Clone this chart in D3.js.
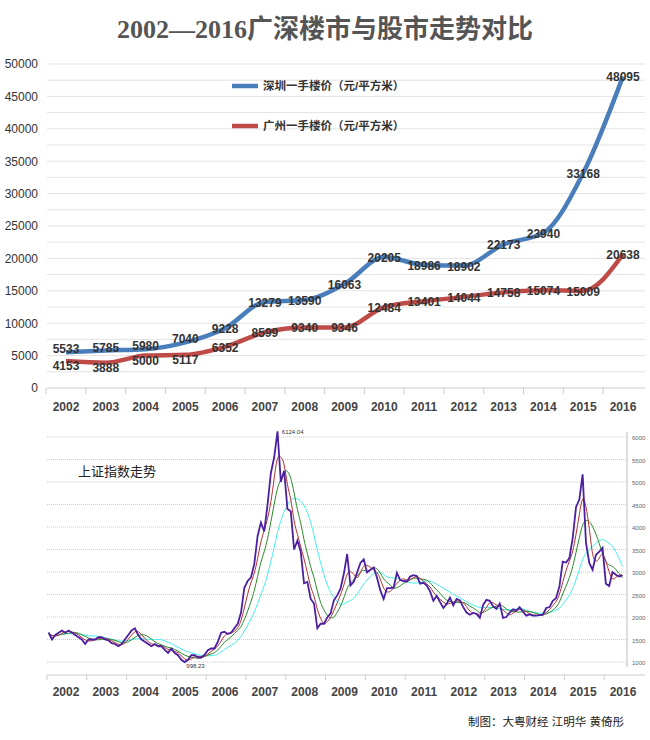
<!DOCTYPE html><html><head><meta charset="utf-8">
<script src="https://d3js.org/d3.v7.min.js"></script>
<style>body{margin:0;background:#fff}svg{font-family:"Liberation Sans","Noto Sans CJK SC",sans-serif}</style></head><body>
<svg id="c" width="650" height="740"></svg>
<script>
const years=["2002","2003","2004","2005","2006","2007","2008","2009","2010","2011","2012","2013","2014","2015","2016"];
const shenzhen=[5533,5785,5980,7040,9228,13279,13590,16063,20205,18986,18902,22173,23940,33168,48095];
const guangzhou=[4153,3888,5000,5117,6352,8599,9340,9346,12484,13401,14044,14758,15074,15009,20638];
const yTicks=[0,5000,10000,15000,20000,25000,30000,35000,40000,45000,50000];
const stockTicks=[1000,1500,2000,2500,3000,3500,4000,4500,5000,5500,6000];
// Shanghai Composite, monthly estimates from Jan 2002
const sh=[1650,1500,1600,1650,1700,1650,1700,1650,1600,1550,1500,1400,
1500,1500,1500,1550,1550,1500,1480,1420,1400,1350,1400,1500,
1600,1700,1750,1600,1500,1450,1400,1350,1400,1350,1350,1270,
1200,1300,1200,1150,1050,998,1050,1150,1150,1100,1100,1160,
1260,1300,1300,1450,1650,1670,1620,1650,1750,1850,2100,2650,
2800,2880,3180,3800,4100,3900,4500,5200,5550,6124,5000,5250,
4400,4350,3500,3700,3450,2750,2780,2400,2300,1750,1850,1850,
1990,2080,2370,2480,2630,2960,3400,2700,2780,2990,3200,3280,
2990,3050,3100,2870,2590,2400,2640,2640,2650,2980,2820,2800,
2790,2900,2930,2910,2740,2760,2700,2570,2360,2470,2330,2200,
2290,2430,2260,2400,2370,2220,2100,2050,2090,2070,1980,2270,
2380,2360,2240,2180,2300,1980,2000,2100,2170,2140,2220,2120,
2030,2060,2030,2030,2040,2050,2200,2220,2360,2420,2680,3230,
3210,3310,3750,4440,4610,5170,3660,3200,3050,3380,3450,3540,
2740,2690,3000,2940,2900,2930];
const svg=d3.select("#c");
svg.append("text").attr("x",325).attr("y",38).attr("text-anchor","middle").attr("font-size",26).attr("font-weight","bold").attr("fill","#555").attr("font-family","'Liberation Serif','Noto Sans CJK SC',serif").text("2002—2016广深楼市与股市走势对比");
const x=d3.scalePoint().domain(years).range([66,623]);
const y=d3.scaleLinear().domain([0,50000]).range([388,64]);
const g=svg.append("g");
d3.range(0,50001,2500).forEach(v=>{if(v>0)g.append("line").attr("x1",47).attr("x2",645).attr("y1",y(v)).attr("y2",y(v)).attr("stroke","#e3e3e3").attr("stroke-width",1);});
g.append("g").attr("transform","translate(47,0)").call(d3.axisLeft(y).tickValues(yTicks).tickSize(0).tickFormat(d3.format("d"))).call(a=>{a.select(".domain").remove();a.selectAll("text").attr("font-size",12).attr("fill","#333").attr("dx",-6);});
g.append("line").attr("x1",47).attr("x2",645).attr("y1",388).attr("y2",388).attr("stroke","#ccc");
years.forEach((yr,i)=>{const b=x(yr)-19.9;g.append("line").attr("x1",b).attr("x2",b).attr("y1",388).attr("y2",394).attr("stroke","#ccc");
g.append("text").attr("x",x(yr)).attr("y",411).attr("text-anchor","middle").attr("font-size",12).attr("font-weight","bold").attr("fill","#444").text(yr);});
const line=d3.line().x((d,i)=>x(years[i])).y(d=>y(d)).curve(d3.curveMonotoneX);
[[shenzhen,"#4a7ebb"],[guangzhou,"#be4b48"]].forEach(([s,c])=>{
g.append("path").attr("d",line(s)).attr("fill","none").attr("stroke",c).attr("stroke-width",4.5);});
shenzhen.forEach((v,i)=>g.append("text").attr("x",x(years[i])).attr("y",y(v)+(i<4?1:5)).attr("text-anchor","middle").attr("font-size",12).attr("font-weight","bold").attr("fill","#333").text(v));
guangzhou.forEach((v,i)=>g.append("text").attr("x",x(years[i])).attr("y",y(v)+(i<4?9:5)).attr("text-anchor","middle").attr("font-size",12).attr("font-weight","bold").attr("fill","#333").text(v));
[["深圳一手楼价（元/平方米）","#4a7ebb",86],["广州一手楼价（元/平方米）","#be4b48",126]].forEach(([t,c,yy])=>{
g.append("line").attr("x1",232).attr("x2",258).attr("y1",yy).attr("y2",yy).attr("stroke",c).attr("stroke-width",4.5);
g.append("text").attr("x",263).attr("y",yy+4).attr("font-size",11.5).attr("font-weight","bold").attr("fill","#333").text(t);});
const tx=d3.scaleLinear().domain([2002,2017]).range([47,644]);
const ys=d3.scaleLinear().domain([1000,6000]).range([662,437]);
const b=svg.append("g");
stockTicks.forEach(v=>{b.append("line").attr("x1",47).attr("x2",627).attr("y1",ys(v)).attr("y2",ys(v)).attr("stroke","#ccc").attr("stroke-dasharray","1,1");
b.append("text").attr("x",632).attr("y",ys(v)+3).attr("font-size",6).attr("fill","#666").text(v);});
b.append("line").attr("x1",627).attr("x2",627).attr("y1",432).attr("y2",667).attr("stroke","#bbb");
const pts=sh.map((v,i)=>[2002+(i+0.5)/12,v]);
const ma=n=>pts.map((p,i)=>{const s=sh.slice(Math.max(0,i-n+1),i+1);return [p[0],d3.mean(s)];});
const sl=d3.line().x(d=>tx(d[0])).y(d=>ys(d[1]));
const slc=d3.line().x(d=>tx(d[0])).y(d=>ys(d[1])).curve(d3.curveBasis);
[[ma(12),"#44eeee"],[ma(6),"#2a8a2a"],[ma(3),"#b03030"]].forEach(([d,c])=>b.append("path").attr("d",slc(d)).attr("fill","none").attr("stroke",c).attr("stroke-width",1));
b.append("path").attr("d",sl(pts)).attr("fill","none").attr("stroke","#4b1fa0").attr("stroke-width",1.8);
b.append("text").attr("x",tx(2007.8)+4).attr("y",ys(6124)+3).attr("font-size",6).attr("fill","#333").text("6124.04");
b.append("text").attr("x",tx(2005.45)+2).attr("y",ys(998)+6).attr("font-size",6).attr("fill","#333").text("998.23");
b.append("text").attr("x",78).attr("y",476).attr("font-size",13).attr("fill","#222").text("上证指数走势");
b.append("line").attr("x1",47).attr("x2",645).attr("y1",675).attr("y2",675).attr("stroke","#ccc");
years.forEach(yr=>{const xx=tx(+yr);b.append("line").attr("x1",xx).attr("x2",xx).attr("y1",675).attr("y2",680).attr("stroke","#ccc");
b.append("text").attr("x",x(yr)).attr("y",696).attr("text-anchor","middle").attr("font-size",12).attr("font-weight","bold").attr("fill","#444").text(yr);});
svg.append("text").attr("x",468).attr("y",726).attr("font-size",11.5).attr("fill","#222").text("制图：大粤财经 江明华 黄倚彤");
</script></body></html>
